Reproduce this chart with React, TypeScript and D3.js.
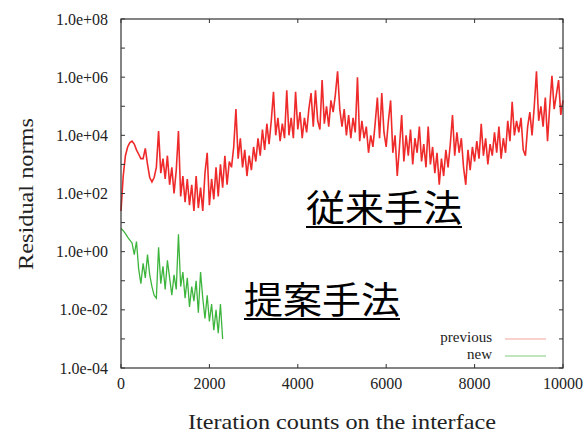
import React, { useEffect, useRef } from "react";
import * as d3 from "d3";

// residual norms, as log10 values, one every ITER_STEP iterations
const ITER_STEP = 50;

const prevLog10 = [
  1.4, 2.6, 3.3, 3.6, 3.75, 3.8, 3.7, 3.5, 3.35, 3.2,
  3.2, 3.55, 3.0, 2.55, 2.4, 2.55, 2.9, 4.15, 2.7, 3.2,
  2.5, 3.3, 2.3, 2.9, 2.0, 2.8, 4.15, 1.9, 2.6, 1.7,
  2.5, 1.6, 2.3, 1.4, 2.6, 1.5, 2.2, 1.4, 2.7, 3.4,
  1.6, 2.5, 1.8, 2.9, 1.9, 3.0, 2.2, 3.3, 2.3, 3.1,
  2.9, 3.6, 4.9, 3.2, 3.9, 2.9, 3.5, 2.6, 3.3, 2.8,
  3.6, 3.1, 3.9, 3.3, 4.2, 3.5, 4.4, 3.7, 4.5, 5.5,
  4.0, 4.6, 3.8, 4.4, 3.9, 5.55, 4.0, 4.6, 3.9, 5.5,
  4.2, 4.8, 3.9, 4.6, 4.1, 4.9, 5.45, 4.3, 5.55, 4.5,
  4.2, 5.9, 4.4, 5.0, 4.3, 5.2, 4.8, 5.4, 6.2, 4.9,
  4.3, 4.9, 4.0, 4.7, 3.9, 4.6, 4.1, 6.0, 3.8, 4.5,
  3.9, 4.3, 3.4, 4.0, 3.6, 4.4, 5.3, 3.9, 5.45, 4.1,
  3.6, 4.5, 5.2, 3.4, 4.0, 2.6, 3.6, 4.7, 3.1, 4.0,
  3.3, 4.2, 3.0, 3.9, 3.4, 4.3, 3.1, 3.7, 2.9, 4.3,
  3.0, 3.6, 2.7, 3.4, 2.3, 3.2, 2.6, 3.5, 2.9, 3.7,
  4.7, 3.3, 4.1, 3.4, 3.9, 2.9, 2.3, 3.5, 2.8, 3.6,
  3.1, 3.8, 3.2, 4.4, 3.3, 3.9, 3.0, 3.7, 3.3, 4.1,
  3.4, 4.3, 3.2, 3.9, 3.4, 4.5, 3.8, 5.15, 4.0, 4.5,
  4.1, 4.6, 3.5, 3.3, 4.3, 4.8, 4.0, 5.0, 6.2, 4.5,
  5.0, 4.3, 5.3, 3.8, 5.0, 6.05, 4.9, 5.4, 5.9, 4.7,
  5.2,
];

const newLog10 = [
  0.8, 0.72, 0.62, 0.5, 0.4, 0.3, -0.1, 0.35, -0.6, -1.1,
  -0.4, -0.9, -0.1, -0.8, -1.2, -1.5, -1.6, 0.15, -1.1, -0.5,
  -1.3, -0.3, -0.9, -1.5, -0.8, -1.3, 0.6, -1.2, -0.7, -1.6,
  -0.9, -1.9, -1.2, -1.7, -1.0, -2.1, -0.7, -1.6, -2.3, -1.5,
  -2.4, -1.8, -2.7, -2.0, -2.8, -1.8, -3.0,
];

const xTicks = [0, 2000, 4000, 6000, 8000, 10000];
const yTickExps = [-4, -3, -2, -1, 0, 1, 2, 3, 4, 5, 6, 7, 8];
const yLabelExps = [-4, -2, 0, 2, 4, 6, 8];
const legendLabels = ["previous", "new"];
const seriesColors = ["#ee2a2a", "#3db53d"];
const legendColors = ["#f4a39c", "#80cc80"];
const notes = ["従来手法", "提案手法"];

const expLabel = (e: number) => "1.0e" + (e < 0 ? "-" : "+") + String(Math.abs(e)).padStart(2, "0");

export default function App() {
  const ref = useRef<SVGSVGElement>(null);

  useEffect(() => {
    const width = 584;
    const height = 435;
    const margin = { top: 19, right: 21, bottom: 67, left: 121 };

    const svg = d3.select(ref.current).attr("width", width).attr("height", height);
    svg.selectAll("*").remove();

    const xScale = d3.scaleLinear().domain([0, 10000]).range([margin.left, width - margin.right]);
    const yScale = d3.scaleLog().domain([1e-4, 1e8]).range([height - margin.bottom, margin.top]);
    const [x0, x1] = xScale.range();
    const [yB, yT] = yScale.range();
    const serif = "'Liberation Serif', 'Times New Roman', serif";

    const line = d3.line<number>()
      .x((d, i) => xScale(i * ITER_STEP))
      .y(d => yScale(Math.pow(10, d)));

    // the two series
    [prevLog10, newLog10].forEach((vals, k) => {
      svg.append("path")
        .attr("d", line(vals))
        .attr("fill", "none")
        .attr("stroke", seriesColors[k])
        .attr("stroke-width", k === 0 ? 1.6 : 1.3)
        .attr("stroke-linejoin", "miter");
    });

    // frame
    svg.append("rect")
      .attr("x", x0).attr("y", yT)
      .attr("width", x1 - x0).attr("height", yB - yT)
      .attr("fill", "none").attr("stroke", "#333").attr("stroke-width", 1.2);

    // ticks, inside, mirrored on all sides
    const tl = 4;
    yTickExps.forEach(e => {
      const y = yScale(Math.pow(10, e));
      svg.append("line").attr("x1", x0).attr("x2", x0 + tl).attr("y1", y).attr("y2", y).attr("stroke", "#333");
      svg.append("line").attr("x1", x1).attr("x2", x1 - tl).attr("y1", y).attr("y2", y).attr("stroke", "#333");
    });
    xTicks.forEach(t => {
      const x = xScale(t);
      svg.append("line").attr("x1", x).attr("x2", x).attr("y1", yB).attr("y2", yB - tl).attr("stroke", "#333");
      svg.append("line").attr("x1", x).attr("x2", x).attr("y1", yT).attr("y2", yT + tl).attr("stroke", "#333");
    });

    svg.selectAll(".ylab").data(yLabelExps).join("text")
      .attr("class", "ylab")
      .attr("x", x0 - 13)
      .attr("y", d => yScale(Math.pow(10, d)))
      .attr("dy", "0.35em")
      .attr("text-anchor", "end")
      .style("font-family", serif).style("font-size", "16px").attr("fill", "#222")
      .text(d => expLabel(d));

    svg.selectAll(".xlab").data(xTicks).join("text")
      .attr("class", "xlab")
      .attr("x", d => xScale(d))
      .attr("y", yB + 21)
      .attr("text-anchor", "middle")
      .style("font-family", serif).style("font-size", "16px").attr("fill", "#222")
      .text(d => String(d));

    svg.append("text")
      .attr("x", (x0 + x1) / 2).attr("y", 429)
      .attr("text-anchor", "middle")
      .attr("textLength", 308).attr("lengthAdjust", "spacingAndGlyphs")
      .style("font-family", serif).style("font-size", "21px").attr("fill", "#222")
      .text("Iteration counts on the interface");

    svg.append("text")
      .attr("transform", "rotate(-90)")
      .attr("x", -194).attr("y", 33)
      .attr("text-anchor", "middle")
      .attr("textLength", 152).attr("lengthAdjust", "spacingAndGlyphs")
      .style("font-family", serif).style("font-size", "22px").attr("fill", "#222")
      .text("Residual norms");

    // legend
    legendLabels.forEach((lab, k) => {
      const ly = 339 + k * 17;
      svg.append("text")
        .attr("x", 492).attr("y", ly + 3)
        .attr("text-anchor", "end")
        .style("font-family", serif).style("font-size", "15px").attr("fill", "#222")
        .text(lab);
      svg.append("line")
        .attr("x1", 505).attr("x2", 546).attr("y1", ly).attr("y2", ly)
        .attr("stroke", legendColors[k]).attr("stroke-width", 1.2);
    });

    // japanese annotations with underline
    const notePos = [{ x: 306, y: 222 }, { x: 244, y: 314 }];
    notes.forEach((t, k) => {
      const p = notePos[k];
      svg.append("text")
        .attr("x", p.x).attr("y", p.y)
        .attr("textLength", 156).attr("lengthAdjust", "spacingAndGlyphs")
        .style("font-family", "'Noto Sans CJK JP', sans-serif").style("font-size", "37px").attr("fill", "#000")
        .text(t);
      svg.append("line")
        .attr("x1", p.x).attr("x2", p.x + 156).attr("y1", p.y + 5).attr("y2", p.y + 5)
        .attr("stroke", "#000").attr("stroke-width", 2);
    });
  }, []);

  return <svg ref={ref} style={{ position: "absolute", left: 0, top: 0, background: "#fff" }} />;
}
